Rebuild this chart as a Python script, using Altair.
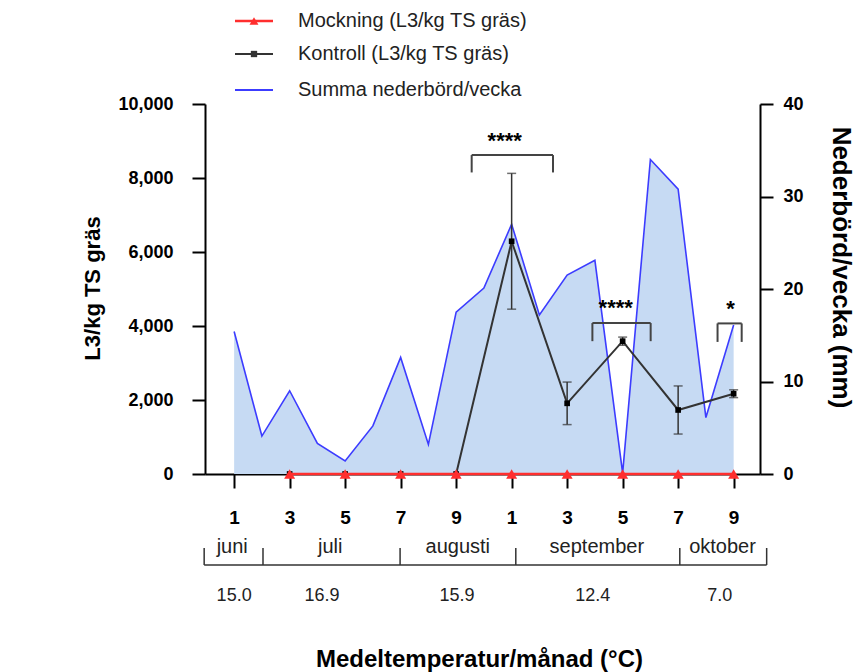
import altair as alt
import pandas as pd

FONT = "Liberation Sans"

# Weekly rain, weeks indexed 0..18 (June to October)
week_pos = list(range(19))
rain_mm = [15.4, 4.1, 9.0, 3.3, 1.4, 5.2, 12.6, 3.2, 17.5, 20.1,
           27.0, 17.2, 21.5, 23.1, 0.1, 34.0, 30.8, 6.1, 16.1]

# Larvae counts, sampled every second week
sample_pos = [2, 4, 6, 8, 10, 12, 14, 16, 18]
mockning = [0, 0, 0, 0, 0, 0, 0, 0, 0]
kontroll = [0, 0, 0, 0, 6290, 1910, 3590, 1730, 2170]
kontroll_sd = [0, 0, 0, 0, 1835, 575, 110, 650, 105]

# Axis tick labels
week_ticks = [0, 2, 4, 6, 8, 10, 12, 14, 16, 18]
week_labels = ["1", "3", "5", "7", "9", "1", "3", "5", "7", "9"]
left_ticks = [0, 2000, 4000, 6000, 8000, 10000]
rain_ticks = [0, 10, 20, 30, 40]
rain_labels = ["0", "10", "20", "30", "40"]

# Significance brackets
sig_x1 = [8.56, 12.91, 17.42]
sig_x2 = [11.49, 15.01, 18.29]
sig_top = [8620, 4080, 4070]
sig_leg = [8150, 3590, 3570]
sig_text = ["****", "****", "*"]
sig_text_pos = [9.75, 13.75, 17.89]
sig_text_val = [9130, 4630, 4590]

# Months and mean temperatures below the axis
month_names = ["juni", "juli", "augusti", "september", "oktober"]
month_center = [-0.07, 3.46, 8.06, 13.07, 17.6]
month_bounds = [-1.08, 1.04, 5.98, 10.15, 16.06, 19.19]
temp_values = ["15.0", "16.9", "15.9", "12.4", "7.0"]
temp_center = [0.0, 3.17, 8.03, 12.92, 17.5]

legend_labels = ["Mockning (L3/kg TS gräs)", "Kontroll (L3/kg TS gräs)",
                 "Summa nederbörd/vecka"]

RED = "#ff2e2e"
DARK = "#333333"
BLUE = "#3c3cff"
FILL = "#c6daf3"

df_rain = pd.DataFrame({"pos": week_pos, "mm": rain_mm})
df_s = pd.DataFrame({"pos": sample_pos, "mock": mockning, "ctrl": kontroll,
                     "sd": kontroll_sd})
df_s["lo"] = df_s["ctrl"] - df_s["sd"]
df_s["hi"] = df_s["ctrl"] + df_s["sd"]
df_err = df_s[df_s["sd"] > 0]
df_sig = pd.DataFrame({"x1": sig_x1, "x2": sig_x2, "top": sig_top, "leg": sig_leg})
df_sig_t = pd.DataFrame({"pos": sig_text_pos, "val": sig_text_val, "t": sig_text})
df_month = pd.DataFrame({"pos": month_center, "name": month_names})
df_bounds = pd.DataFrame({"pos": month_bounds})
df_temp = pd.DataFrame({"pos": temp_center, "t": temp_values})
df_span = pd.DataFrame({"a": [month_bounds[0]], "b": [month_bounds[-1]]})
one = pd.DataFrame({"k": [0]})

xscale = alt.Scale(domain=[-1.05, 18.95], nice=False, zero=False)
label_arr = "[" + ",".join("'%s'" % s for s in week_labels) + "]"
xaxis = alt.Axis(
    values=week_ticks, labelExpr=label_arr + "[round(datum.value/2)]",
    title="Medeltemperatur/månad (°C)", titleFont=FONT, titleFontSize=24,
    titleFontWeight="bold", titleColor="black", titleX=274, titleY=185,
    titleBaseline="middle", titleAlign="center",
    labelFont=FONT, labelFontSize=19, labelFontWeight="bold", labelColor="black",
    labelPadding=20, tickSize=14, tickWidth=2, tickColor="black",
    domainColor="black", domainWidth=2, grid=False, labelFlush=False,
)

def X(field):
    return alt.X(field, type="quantitative", scale=xscale, axis=xaxis)

yscale = alt.Scale(domain=[0, 10000], nice=False)
yaxis = alt.Axis(
    values=left_ticks, labelExpr="format(datum.value, ',')", title="L3/kg TS gräs",
    titleFont=FONT, titleFontSize=22, titleFontWeight="bold", titleColor="black",
    titleAngle=-90, titleX=-113, titleY=184, titleAlign="center",
    titleBaseline="middle",
    labelFont=FONT, labelFontSize=18, labelFontWeight="bold", labelColor="black",
    labelPadding=19, tickSize=13, tickWidth=2, tickColor="black",
    domainColor="black", domainWidth=2, grid=False,
)

def Y(field):
    return alt.Y(field, type="quantitative", scale=yscale, axis=yaxis)

rain_arr = "[" + ",".join("'%s'" % s for s in rain_labels) + "]"
raxis = alt.Axis(
    orient="right", values=rain_ticks,
    labelExpr=rain_arr + "[round(datum.value/10)]",
    title="Nederbörd/vecka (mm)", titleFont=FONT, titleFontSize=26,
    titleFontWeight="bold", titleColor="black", titleAngle=90,
    titleX=80, titleY=163, titleAlign="center", titleBaseline="middle",
    labelFont=FONT, labelFontSize=18, labelFontWeight="bold", labelColor="black",
    labelPadding=10, tickSize=13, tickWidth=2, tickColor="black",
    domainColor="black", domainWidth=2, grid=False,
)

# Rain as filled area on the right axis
rain = alt.Chart(df_rain).mark_area(
    color=FILL, opacity=1, line={"color": BLUE, "strokeWidth": 1.6}
).encode(x=X("pos"), y=alt.Y("mm:Q", scale=alt.Scale(domain=[0, 40], nice=False),
                             axis=raxis))

err = alt.Chart(df_err).mark_rule(color=DARK, strokeWidth=1.5).encode(
    x=X("pos"), y=Y("lo"), y2="hi")
cap_lo = alt.Chart(df_err).mark_tick(color=DARK, thickness=1.5, size=9,
                                     orient="horizontal").encode(x=X("pos"), y=Y("lo"))
cap_hi = alt.Chart(df_err).mark_tick(color=DARK, thickness=1.5, size=9,
                                     orient="horizontal").encode(x=X("pos"), y=Y("hi"))
ctrl_line = alt.Chart(df_s).mark_line(color=DARK, strokeWidth=2).encode(
    x=X("pos"), y=Y("ctrl"))
ctrl_pts = alt.Chart(df_s).mark_point(shape="square", filled=True, color="black",
                                      size=32, opacity=1).encode(x=X("pos"), y=Y("ctrl"))
mock_line = alt.Chart(df_s).mark_line(color=RED, strokeWidth=2.5).encode(
    x=X("pos"), y=Y("mock"))
mock_pts = alt.Chart(df_s).mark_point(shape="triangle-up", filled=True, color=RED,
                                      size=120, opacity=1).encode(x=X("pos"), y=Y("mock"))

sig_h = alt.Chart(df_sig).mark_rule(color="#444444", strokeWidth=2).encode(
    x=X("x1"), x2="x2", y=Y("top"))
sig_l = alt.Chart(df_sig).mark_rule(color="#444444", strokeWidth=2).encode(
    x=X("x1"), y=Y("top"), y2="leg")
sig_r = alt.Chart(df_sig).mark_rule(color="#444444", strokeWidth=2).encode(
    x=X("x2"), y=Y("top"), y2="leg")
sig_t = alt.Chart(df_sig_t).mark_text(font=FONT, fontSize=22, fontWeight="bold",
                                      color="black", baseline="middle", dy=5).encode(
    x=X("pos"), y=Y("val"), text="t:N")

# Month brackets and temperatures under the axis
span = alt.Chart(df_span).mark_rule(color="#333333", strokeWidth=1.5).encode(
    x=X("a"), x2="b", y=alt.value(461))
bounds = alt.Chart(df_bounds).mark_rule(color="#333333", strokeWidth=1.5).encode(
    x=X("pos"), y=alt.value(444), y2=alt.value(461))
months = alt.Chart(df_month).mark_text(font=FONT, fontSize=20, color="#222222",
                                       baseline="middle").encode(
    x=X("pos"), y=alt.value(443), text="name:N")
temps = alt.Chart(df_temp).mark_text(font=FONT, fontSize=18, color="#222222",
                                     baseline="middle").encode(
    x=X("pos"), y=alt.value(492), text="t:N")

# Legend above the plot
def legend_row(ypix, color, label, shape=None, width=2.5, msize=50):
    parts = [alt.Chart(one).mark_rule(color=color, strokeWidth=width).encode(
        x=alt.value(30), x2=alt.value(68), y=alt.value(ypix))]
    if shape:
        parts.append(alt.Chart(one).mark_point(shape=shape, filled=True, color=color,
                                               size=msize, opacity=1).encode(
            x=alt.value(49), y=alt.value(ypix)))
    parts.append(alt.Chart(one).mark_text(font=FONT, fontSize=20, color="#222222",
                                          align="left", baseline="middle").encode(
        x=alt.value(93), y=alt.value(ypix), text=alt.value(label)))
    return parts

legend = (legend_row(-83, RED, legend_labels[0], "triangle-up", 2.5, 80)
          + legend_row(-50, DARK, legend_labels[1], "square", 2, 40)
          + legend_row(-14, BLUE, legend_labels[2], None, 2))

left_group = alt.layer(err, cap_lo, cap_hi, ctrl_line, ctrl_pts, mock_line, mock_pts,
                       sig_h, sig_l, sig_r, sig_t, span, bounds, months, temps,
                       *legend)

chart = alt.layer(rain, left_group).resolve_scale(y="independent").properties(
    width=555, height=370,
    autosize=alt.AutoSizeParams(type="none"),
    padding={"left": 205, "top": 104, "right": 101, "bottom": 198},
    background="white",
).configure_view(stroke=None)

chart.save("out.html", embed_options={"renderer": "svg", "actions": False})
